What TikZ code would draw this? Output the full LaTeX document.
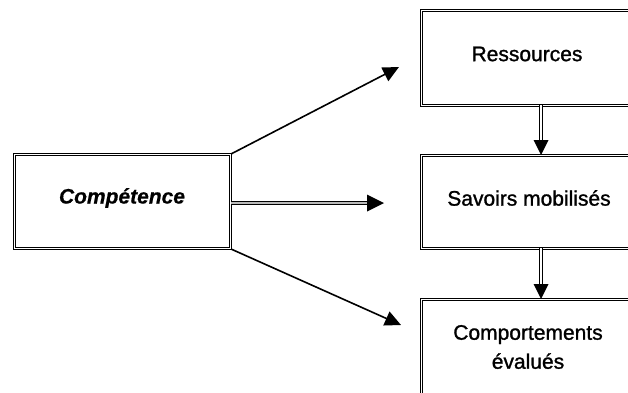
\documentclass[tikz,border=0pt]{standalone}
\usepackage{fontspec}
\setmainfont{Liberation Sans}[FakeBold=1.2]
\newfontfamily\cfont{Liberation Sans}[FakeBold=0.6]
\usetikzlibrary{arrows.meta}
\begin{document}
\begin{tikzpicture}[x=1pt,y=1pt,
  dbox/.style={draw, double, line width=1pt, double distance=1.6pt, rectangle, inner sep=0pt, anchor=north west},
  lbl/.style={font=\fontsize{21}{29}\selectfont, align=center, inner sep=0pt},
  thin/.style={line width=1.6pt, -{Triangle[length=16pt,width=15pt]}},
  dshaft/.style={draw, double, line width=1pt, double distance=1.8pt},
  tipfill/.style={fill=black}
]
\useasboundingbox (0,0) rectangle (628,-392);
\clip (0,0) rectangle (628,-392);
% boxes
\node[dbox, minimum width=216pt, minimum height=94pt] (c) at (14,-154) {};
\node[dbox, minimum width=240pt, minimum height=95pt] (r) at (421,-10) {};
\node[dbox, minimum width=240pt, minimum height=93pt] (s) at (421,-155) {};
\node[dbox, minimum width=240pt, minimum height=125pt] (k) at (421,-299) {};
% labels
\node[lbl, font=\fontsize{21}{29}\selectfont\cfont\bfseries\itshape] (ct) at (122,-198) {Compétence};
\node[lbl] (rt) at (527,-54) {Ressources};
\node[lbl] (st) at (529,-198) {Savoirs mobilisés};
\node[lbl] (kt) at (528,-347) {Comportements\\évalués};
% end coordinates
\coordinate (t1) at (399,-67);
\coordinate (t2) at (384,-203);
\coordinate (t3) at (401,-325);
\coordinate (h2) at (367,-203);
\coordinate (rv) at (541,-105);
\coordinate (sv) at (541,-155);
\coordinate (sv2) at (541,-248);
\coordinate (kv) at (541,-299);
\coordinate (rh) at (541,-140);
\coordinate (kh) at (541,-284);
% diagonal arrows
\draw[thin] (c.north east) -- (t1);
\draw[thin] (c.south east) -- (t3);
% horizontal double arrow, grey core
\draw[dshaft, double=gray!55] ([yshift=-49pt]c.north east) -- (h2);
\fill[tipfill] (t2) -- ++(-17,8.5) -- ++(0,-17) -- cycle;
% vertical double arrows
\draw[dshaft] (rv) -- (rh);
\fill[tipfill] (sv) -- ++(-7.5,15) -- ++(15,0) -- cycle;
\draw[dshaft] (sv2) -- (kh);
\fill[tipfill] (kv) -- ++(-7.5,15) -- ++(15,0) -- cycle;
\end{tikzpicture}
\end{document}
